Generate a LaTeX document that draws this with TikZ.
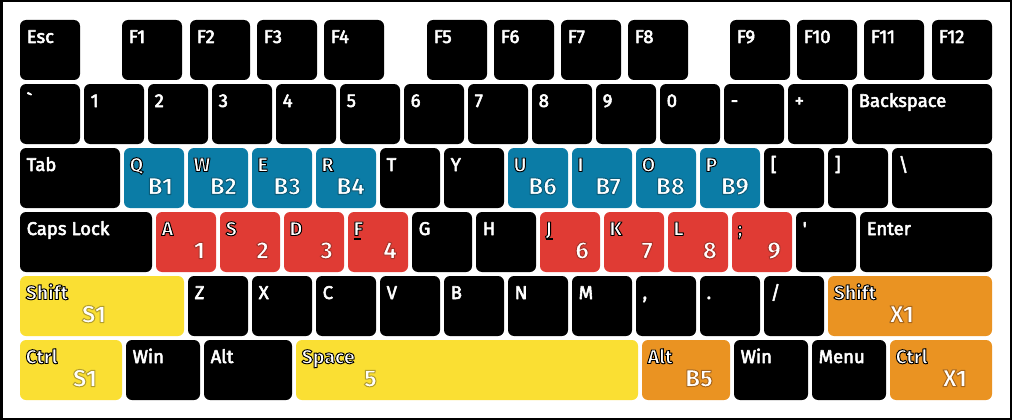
\documentclass[tikz,border=0pt]{standalone}
\usepackage{fontspec}
\newfontfamily\keyf{Fira Sans}
\definecolor{kblue}{HTML}{0B7CA6}
\definecolor{kred}{HTML}{E03B34}
\definecolor{kyel}{HTML}{FADF33}
\definecolor{korg}{HTML}{EA9322}
% text drawn as fill + stroke: #1 stroke rgb, #2 stroke width, #3 text
\newcommand\stk[3]{\special{pdf:code #1 RG #2 w 1 j 2 Tr}#3\special{pdf:code 0 Tr}}
\newcommand\bump[1]{\rlap{\rule[-4.5pt]{7.5pt}{1.9pt}}#1}
\tikzset{
  keybox/.style={rectangle, rounded corners=6pt, minimum height=60pt, inner sep=0pt, fill=black, draw=none},
  smalllab/.style={anchor=base west, inner sep=0pt, text=white, font=\keyf\fontsize{18.5}{20}\selectfont},
  olab/.style={anchor=base west, inner sep=0pt, text=white, font=\keyf\bfseries\fontsize{19.5}{21}\selectfont},
  biglab/.style={anchor=base east, inner sep=0pt, text=white, font=\keyf\bfseries\fontsize{24}{26}\selectfont},
}
% black key: name x y w label
\newcommand\keyk[5]{%
  \node[keybox, minimum width=#4pt] (#1) at ({#2+#4/2},{#3+30}) {};
  \node[smalllab] (#1-l) at ({#2+6.5},{#3+23}) {\stk{1 1 1}{0.55}{#5}};
}
% coloured key: name x y w colour small big bigoffset glowrgb
\newcommand\keyc[9]{%
  \node[keybox, fill=#5, minimum width=#4pt] (#1) at ({#2+#4/2},{#3+30}) {};
  \node[olab] (#1-l) at ({#2+5.5},{#3+23.5}) {\stk{0 0 0}{0.95}{#6}};
  \node[biglab] (#1-b) at ({#2+#8},{#3+46.5}) {\stk{#9}{1.0}{#7}};
}
\def\gb{0.04 0.36 0.48}
\def\gr{0.66 0.20 0.17}
\def\gy{0.70 0.62 0.18}
\def\go{0.66 0.40 0.11}
\begin{document}
\begin{tikzpicture}[x=1pt,y=-1pt]
\useasboundingbox (0,0) rectangle (1012,420);
\fill[white] (0,0) rectangle (1012,420);
\draw[line width=2.5pt] (1.25,1.25) rectangle (1010.75,418.75);
% row 1
\keyk{esc}{20}{20}{60}{Esc}
\keyk{f1}{122}{20}{60}{F1}
\keyk{f2}{190}{20}{60}{F2}
\keyk{f3}{257}{20}{60}{F3}
\keyk{f4}{324}{20}{60}{F4}
\keyk{f5}{427}{20}{60}{F5}
\keyk{f6}{494}{20}{60}{F6}
\keyk{f7}{561}{20}{60}{F7}
\keyk{f8}{628}{20}{60}{F8}
\keyk{f9}{730}{20}{60}{F9}
\keyk{f10}{797}{20}{60}{F10}
\keyk{f11}{864}{20}{60}{F11}
\keyk{f12}{932}{20}{60}{F12}
% row 2
\keyk{grave}{20}{84}{60}{`}
\keyk{n1}{84}{84}{60}{1}
\keyk{n2}{148}{84}{60}{2}
\keyk{n3}{212}{84}{60}{3}
\keyk{n4}{276}{84}{60}{4}
\keyk{n5}{340}{84}{60}{5}
\keyk{n6}{404}{84}{60}{6}
\keyk{n7}{468}{84}{60}{7}
\keyk{n8}{532}{84}{60}{8}
\keyk{n9}{596}{84}{60}{9}
\keyk{n0}{660}{84}{60}{0}
\keyk{minus}{724}{84}{60}{-}
\keyk{plus}{788}{84}{60}{+}
\keyk{bksp}{852}{84}{140}{Backspace}
% row 3
\keyk{tab}{20}{148}{100}{Tab}
\keyc{q}{124}{148}{60}{kblue}{Q}{B1}{49}{\gb}
\keyc{w}{188}{148}{60}{kblue}{W}{B2}{49}{\gb}
\keyc{e}{252}{148}{60}{kblue}{E}{B3}{49}{\gb}
\keyc{r}{316}{148}{60}{kblue}{R}{B4}{49}{\gb}
\keyk{t}{380}{148}{60}{T}
\keyk{y}{444}{148}{60}{Y}
\keyc{u}{508}{148}{60}{kblue}{U}{B6}{49}{\gb}
\keyc{i}{572}{148}{60}{kblue}{I}{B7}{49}{\gb}
\keyc{o}{636}{148}{60}{kblue}{O}{B8}{49}{\gb}
\keyc{p}{700}{148}{60}{kblue}{P}{B9}{49}{\gb}
\keyk{lbr}{764}{148}{60}{[}
\keyk{rbr}{828}{148}{60}{]}
\keyk{bsl}{892}{148}{100}{\textbackslash}
% row 4
\keyk{caps}{20}{212}{132}{Caps Lock}
\keyc{a}{156}{212}{60}{kred}{A}{1}{49}{\gr}
\keyc{s}{220}{212}{60}{kred}{S}{2}{49}{\gr}
\keyc{d}{284}{212}{60}{kred}{D}{3}{49}{\gr}
\keyc{f}{348}{212}{60}{kred}{\bump{F}}{4}{49}{\gr}
\keyk{g}{412}{212}{60}{G}
\keyk{h}{476}{212}{60}{H}
\keyc{j}{540}{212}{60}{kred}{\bump{J}}{6}{49}{\gr}
\keyc{k}{604}{212}{60}{kred}{K}{7}{49}{\gr}
\keyc{l}{668}{212}{60}{kred}{L}{8}{49}{\gr}
\keyc{semi}{732}{212}{60}{kred}{;}{9}{49}{\gr}
\keyk{quote}{796}{212}{60}{'}
\keyk{enter}{860}{212}{132}{Enter}
% row 5
\keyc{lshift}{20}{276}{164}{kyel}{Shift}{S1}{86}{\gy}
\keyk{z}{188}{276}{60}{Z}
\keyk{x}{252}{276}{60}{X}
\keyk{c}{316}{276}{60}{C}
\keyk{v}{380}{276}{60}{V}
\keyk{b}{444}{276}{60}{B}
\keyk{n}{508}{276}{60}{N}
\keyk{m}{572}{276}{60}{M}
\keyk{comma}{636}{276}{60}{,}
\keyk{period}{700}{276}{60}{.}
\keyk{slash}{764}{276}{60}{/}
\keyc{rshift}{828}{276}{164}{korg}{Shift}{X1}{86}{\go}
% row 6
\keyc{lctrl}{20}{340}{102}{kyel}{Ctrl}{S1}{77}{\gy}
\keyk{lwin}{126}{340}{74}{Win}
\keyk{lalt}{204}{340}{88}{Alt}
\keyc{space}{296}{340}{342}{kyel}{Space}{5}{81}{\gy}
\keyc{ralt}{642}{340}{88}{korg}{Alt}{B5}{71}{\go}
\keyk{rwin}{734}{340}{74}{Win}
\keyk{menu}{812}{340}{74}{Menu}
\keyc{rctrl}{890}{340}{102}{korg}{Ctrl}{X1}{77}{\go}
\end{tikzpicture}
\end{document}
